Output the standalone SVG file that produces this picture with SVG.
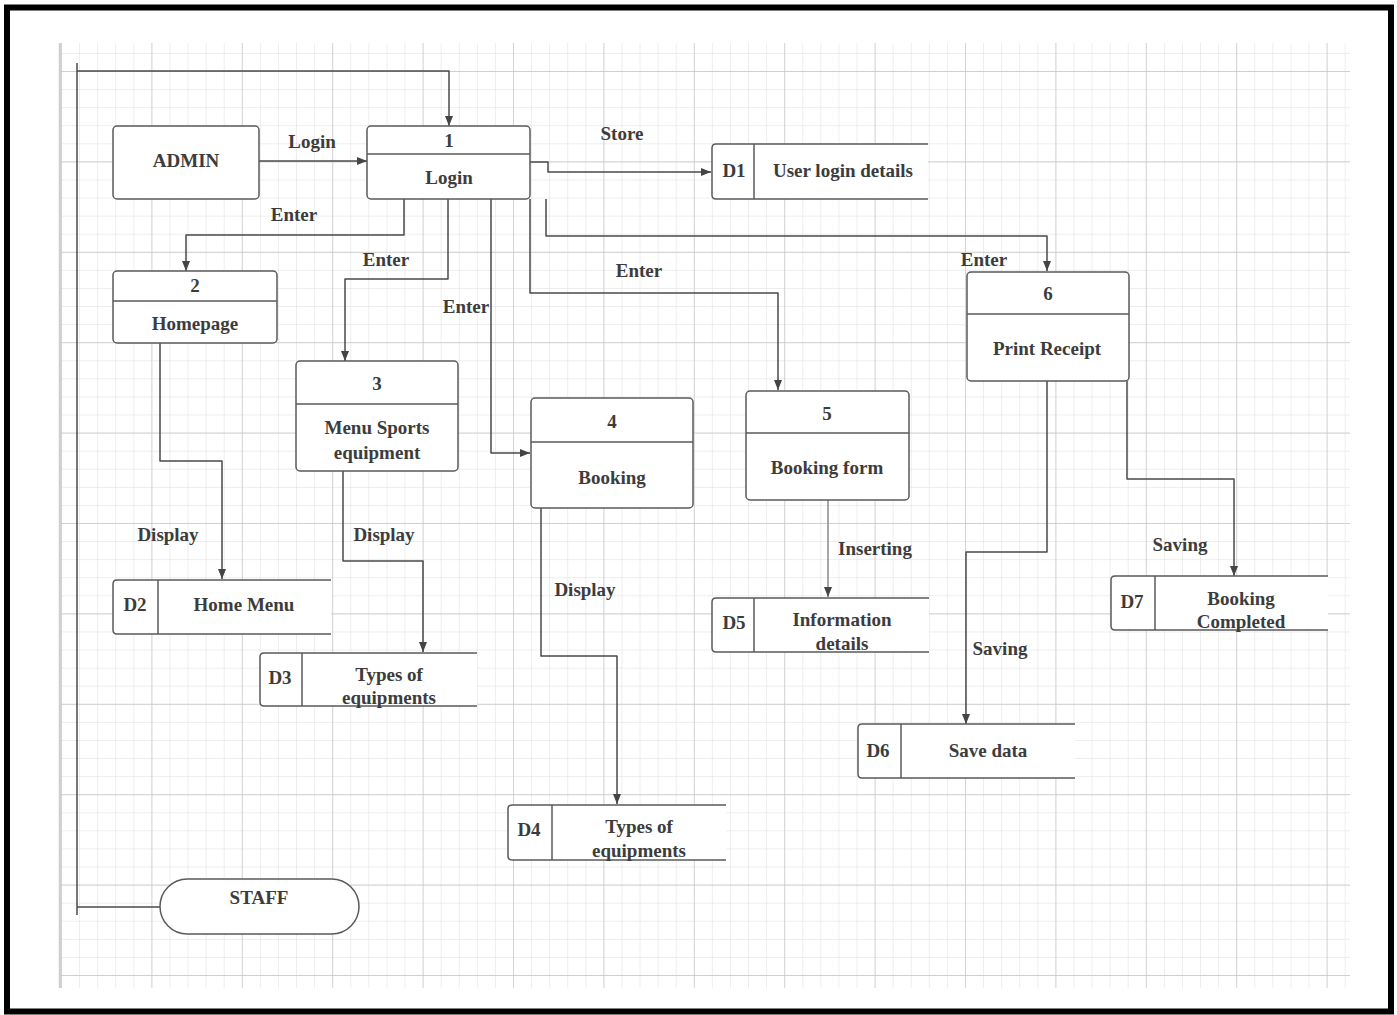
<svg xmlns="http://www.w3.org/2000/svg" width="1397" height="1015" viewBox="0 0 1397 1015">
<defs>
<pattern id="minor" patternUnits="userSpaceOnUse" x="61" y="71" width="18.08" height="18.08">
<path d="M0 0 H18.08 M0 0 V18.08" fill="none" stroke="#dcdcdc" stroke-width="1"/>
</pattern>
<pattern id="major" patternUnits="userSpaceOnUse" x="61" y="71" width="90.4" height="90.4">
<path d="M0 0 H90.4 M0 0 V90.4" fill="none" stroke="#c6c6c6" stroke-width="1.3"/>
</pattern>
<marker id="arr" viewBox="0 0 10 8" markerWidth="10" markerHeight="8" refX="10" refY="4" orient="auto" markerUnits="userSpaceOnUse">
<path d="M0,0 L10,4 L0,8 z" fill="#444"/>
</marker>
</defs>
<style>
.box{fill:#fff;stroke:#5a5a5a;stroke-width:1.5}
.div{stroke:#5a5a5a;stroke-width:1.5}
.store{fill:#fff;stroke:#5a5a5a;stroke-width:1.5}
.t{font-family:"Liberation Serif","Times New Roman",serif;font-size:19px;font-weight:bold;fill:#3c3c3c;text-anchor:middle;dominant-baseline:central}
.c{fill:none;stroke:#4a4a4a;stroke-width:1.5;stroke-linejoin:round}
.ca{fill:none;stroke:#4a4a4a;stroke-width:1.5;stroke-linejoin:round;marker-end:url(#arr)}
.cl{fill:none;stroke:#8a8a8a;stroke-width:1.5;stroke-linejoin:round;marker-end:url(#arr)}
</style>
<rect width="1397" height="1015" fill="#fff"/>
<rect x="7" y="7.5" width="1384" height="1004" fill="none" stroke="#000" stroke-width="6"/>
<rect x="60" y="43" width="1290" height="945" fill="url(#minor)"/>
<rect x="60" y="43" width="1290" height="945" fill="url(#major)"/>
<line x1="60" y1="43" x2="60" y2="988" stroke="#cfcfcf" stroke-width="2.5"/>

<g id="connectors">
<path class="c" d="M77,63 V915"/>
<path class="c" d="M77,907 H160"/>
<path class="ca" d="M77,71 H449 V126"/>
<path class="ca" d="M259,161 H367"/>
<path class="ca" d="M530,162 H548 V172 H711"/>
<path class="ca" d="M404,199 V235 H186 V271"/>
<path class="ca" d="M448,199 V279 H345 V361"/>
<path class="ca" d="M491,199 V453 H530"/>
<path class="ca" d="M530,199 V293 H778 V390"/>
<path class="ca" d="M546,199 V236 H1047 V271"/>
<path class="ca" d="M160,343 V461 H222 V579"/>
<path class="ca" d="M343,471 V561 H423 V652"/>
<path class="ca" d="M541,508 V656 H617 V804"/>
<path class="cl" d="M828,500 V597"/>
<path class="ca" d="M1047,381 V552 H966 V724"/>
<path class="ca" d="M1127,381 V479 H1234 V576"/>
<text class="t" x="312" y="141">Login</text>
<text class="t" x="294" y="214">Enter</text>
<text class="t" x="386" y="259">Enter</text>
<text class="t" x="466" y="306">Enter</text>
<text class="t" x="639" y="270">Enter</text>
<text class="t" x="622" y="133">Store</text>
<text class="t" x="984" y="259">Enter</text>
<text class="t" x="168" y="534">Display</text>
<text class="t" x="384" y="534">Display</text>
<text class="t" x="585" y="589">Display</text>
<text class="t" x="875" y="548">Inserting</text>
<text class="t" x="1000" y="648">Saving</text>
<text class="t" x="1180" y="544">Saving</text>
</g>

<g id="admin">
<rect class="box" x="113" y="126" width="146" height="73" rx="4"/>
<text class="t" x="186" y="160">ADMIN</text>
</g>

<g id="staff">
<rect class="box" x="160" y="879" width="199" height="55" rx="27.5"/>
<text class="t" x="259" y="897">STAFF</text>
</g>

<g id="p1">
<rect class="box" x="367" y="126" width="163" height="73" rx="4"/>
<line class="div" x1="367" y1="154" x2="530" y2="154"/>
<text class="t" x="449" y="140">1</text>
<text class="t" x="449" y="177">Login</text>
</g>

<g id="p2">
<rect class="box" x="113" y="271" width="164" height="72" rx="4"/>
<line class="div" x1="113" y1="301" x2="277" y2="301"/>
<text class="t" x="195" y="285">2</text>
<text class="t" x="195" y="323">Homepage</text>
</g>

<g id="p3">
<rect class="box" x="296" y="361" width="162" height="110" rx="4"/>
<line class="div" x1="296" y1="404" x2="458" y2="404"/>
<text class="t" x="377" y="383">3</text>
<text class="t" x="377" y="427">Menu Sports</text>
<text class="t" x="377" y="452">equipment</text>
</g>

<g id="p4">
<rect class="box" x="531" y="398" width="162" height="110" rx="4"/>
<line class="div" x1="531" y1="442" x2="693" y2="442"/>
<text class="t" x="612" y="421">4</text>
<text class="t" x="612" y="477">Booking</text>
</g>

<g id="p5">
<rect class="box" x="746" y="391" width="163" height="109" rx="4"/>
<line class="div" x1="746" y1="433" x2="909" y2="433"/>
<text class="t" x="827" y="413">5</text>
<text class="t" x="827" y="467">Booking form</text>
</g>

<g id="p6">
<rect class="box" x="967" y="272" width="162" height="109" rx="4"/>
<line class="div" x1="967" y1="314" x2="1129" y2="314"/>
<text class="t" x="1048" y="293">6</text>
<text class="t" x="1047" y="348">Print  Receipt</text>
</g>

<g id="d1">
<path class="store" d="M928,144 H716 Q712,144 712,148 V195 Q712,199 716,199 H928"/>
<line class="div" x1="754" y1="144" x2="754" y2="199"/>
<text class="t" x="734" y="170">D1</text>
<text class="t" x="843" y="170">User login details</text>
</g>

<g id="d2">
<path class="store" d="M331,580 H117 Q113,580 113,584 V630 Q113,634 117,634 H331"/>
<line class="div" x1="158" y1="580" x2="158" y2="634"/>
<text class="t" x="135" y="604">D2</text>
<text class="t" x="244" y="604">Home Menu</text>
</g>

<g id="d3">
<path class="store" d="M477,653 H264 Q260,653 260,657 V702 Q260,706 264,706 H477"/>
<line class="div" x1="302" y1="653" x2="302" y2="706"/>
<text class="t" x="280" y="677">D3</text>
<text class="t" x="389" y="674">Types of</text>
<text class="t" x="389" y="697">equipments</text>
</g>

<g id="d4">
<path class="store" d="M726,805 H512 Q508,805 508,809 V856 Q508,860 512,860 H726"/>
<line class="div" x1="552" y1="805" x2="552" y2="860"/>
<text class="t" x="529" y="829">D4</text>
<text class="t" x="639" y="826">Types of</text>
<text class="t" x="639" y="850">equipments</text>
</g>

<g id="d5">
<path class="store" d="M929,598 H716 Q712,598 712,602 V648 Q712,652 716,652 H929"/>
<line class="div" x1="754" y1="598" x2="754" y2="652"/>
<text class="t" x="734" y="622">D5</text>
<text class="t" x="842" y="619">Information</text>
<text class="t" x="842" y="643">details</text>
</g>

<g id="d6">
<path class="store" d="M1075,724 H862 Q858,724 858,728 V774 Q858,778 862,778 H1075"/>
<line class="div" x1="901" y1="724" x2="901" y2="778"/>
<text class="t" x="878" y="750">D6</text>
<text class="t" x="988" y="750">Save data</text>
</g>

<g id="d7">
<path class="store" d="M1328,576 H1115 Q1111,576 1111,580 V626 Q1111,630 1115,630 H1328"/>
<line class="div" x1="1155" y1="576" x2="1155" y2="630"/>
<text class="t" x="1132" y="601">D7</text>
<text class="t" x="1241" y="598">Booking</text>
<text class="t" x="1241" y="621">Completed</text>
</g>
</svg>
